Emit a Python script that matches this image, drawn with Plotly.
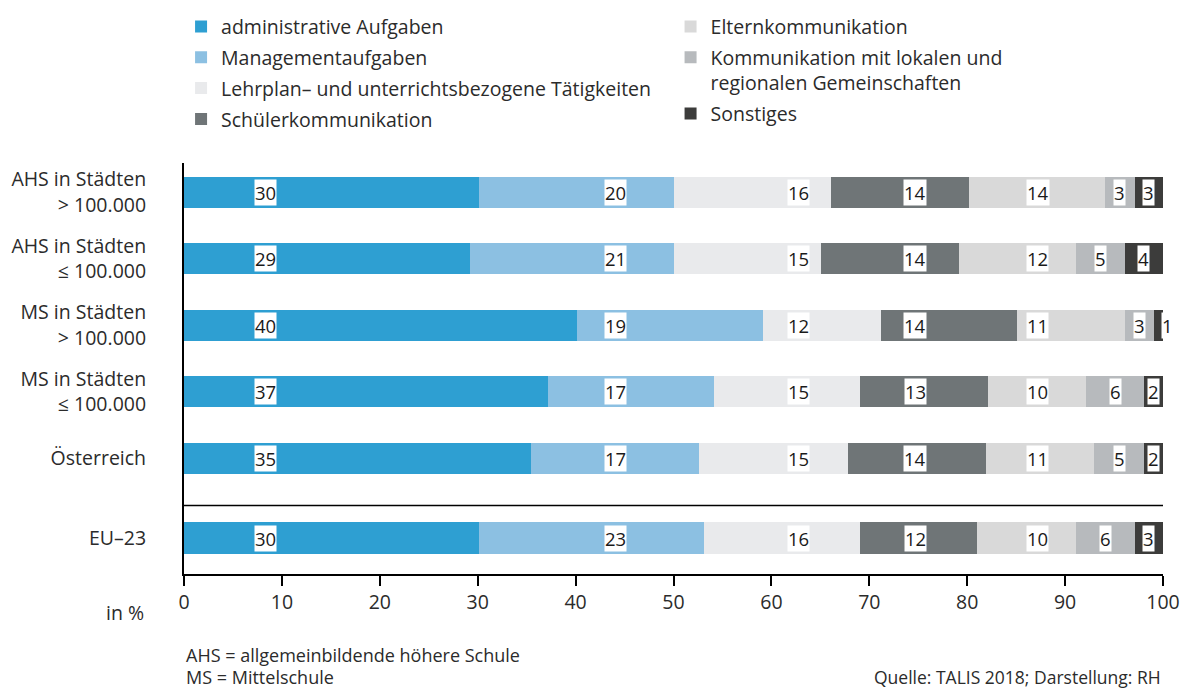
import plotly.graph_objects as go

categories = ["AHS in Städten<br>> 100.000", "AHS in Städten<br>≤ 100.000",
              "MS in Städten<br>> 100.000", "MS in Städten<br>≤ 100.000",
              "Österreich", "EU–23"]
cat_pos = [0, 1, 2, 3, 4, 5.2]

series_names = ["administrative Aufgaben", "Managementaufgaben",
                "Lehrplan– und unterrichtsbezogene Tätigkeiten", "Schülerkommunikation",
                "Elternkommunikation", "Kommunikation mit lokalen und<br>regionalen Gemeinschaften",
                "Sonstiges"]

administrative = [30.1, 29.2, 40.1, 37.2, 35.4, 30.1]
management = [20.0, 20.9, 19.0, 16.9, 17.2, 23.0]
lehrplan = [16.0, 15.0, 12.1, 14.9, 15.2, 16.0]
schueler = [14.1, 14.1, 13.9, 13.1, 14.1, 11.9]
eltern = [13.9, 11.9, 11.0, 10.0, 11.1, 10.1]
gemeinschaft = [3.0, 5.0, 3.0, 6.0, 5.1, 6.0]
sonstiges = [2.9, 3.9, 0.9, 1.9, 1.9, 2.9]

series_values = [administrative, management, lehrplan, schueler, eltern, gemeinschaft, sonstiges]
colors = ["#2e9fd2", "#8cc0e2", "#e9eaec", "#6f7577", "#d9d9d9", "#b7babd", "#3c3c3b"]

# label columns (axis units) used by the original for the first five series;
# None = label centred in its segment
label_columns = [8.3, 44.1, 62.8, 74.7, 87.2, None, None]

x_ticks = [0, 10, 20, 30, 40, 50, 60, 70, 80, 90, 100]

FONT = "Open Sans"
TXT = "#2b2b2b"
FS = 19.5

fig = go.Figure()
for i, (name, vals) in enumerate(zip(series_names, series_values)):
    fig.add_trace(go.Bar(
        y=cat_pos, x=vals, name=name, orientation="h",
        marker=dict(color=colors[i], line=dict(width=0)),
        width=0.47, legend="legend" if i < 4 else "legend2",
        legendgroup=f"g{i}", hoverinfo="x+name",
    ))

# value labels with white boxes
annotations = []
for j, yp in enumerate(cat_pos):
    cum = 0
    for i, vals in enumerate(series_values):
        v = vals[j]
        center = cum + v / 2
        cum += v
        lx = label_columns[i] if label_columns[i] is not None else center
        annotations.append(dict(
            x=lx, y=yp, xref="x", yref="y", text=f"{round(v):d}",
            showarrow=False, bgcolor="white", borderpad=0,
            font=dict(family=FONT, size=18.5, color="#1a1a1a"),
            xshift=9 if v < 1.5 else 0,
        ))

H = 411  # plot-area height in px, for paper placement of footer texts
annotations += [
    dict(x=0, y=(574 - 655) / H, xref="paper", yref="paper", xanchor="left", yanchor="middle",
         text="AHS = allgemeinbildende höhere Schule", showarrow=False,
         font=dict(family=FONT, size=18, color=TXT)),
    dict(x=0, y=(574 - 677) / H, xref="paper", yref="paper", xanchor="left", yanchor="middle",
         text="MS = Mittelschule", showarrow=False,
         font=dict(family=FONT, size=18, color=TXT)),
    dict(x=1, y=(574 - 677) / H, xref="paper", yref="paper", xanchor="right", yanchor="middle",
         text="Quelle: TALIS 2018; Darstellung: RH", showarrow=False,
         font=dict(family=FONT, size=17.5, color=TXT)),
    dict(x=-0.039, y=(574 - 612) / H, xref="paper", yref="paper", xanchor="right", yanchor="middle",
         text="in %", showarrow=False, font=dict(family=FONT, size=FS, color=TXT)),
]

legend_common = dict(yanchor="top", xanchor="left", orientation="v",
                     font=dict(family=FONT, size=FS, color=TXT), traceorder="grouped",
                     valign="top", bgcolor="rgba(0,0,0,0)", tracegroupgap=2.5)

fig.update_layout(
    width=1184, height=688,
    margin=dict(l=184, r=21, t=163, b=114, autoexpand=False),
    barmode="stack", bargap=0,
    plot_bgcolor="white", paper_bgcolor="white",
    font=dict(family=FONT, size=FS, color=TXT),
    annotations=annotations,
    showlegend=True,
    legend=dict(x=-0.003, y=1.379, **legend_common),
    legend2=dict(x=0.497, y=1.379, **legend_common),
    xaxis=dict(range=[0, 100], tickvals=x_ticks, ticktext=[str(t) for t in x_ticks],
               showgrid=False, zeroline=False, showline=True, linecolor="black", linewidth=2,
               ticks="outside", ticklen=10, tickwidth=2, tickcolor="black",
               tickfont=dict(family=FONT, size=FS, color=TXT), fixedrange=True),
    yaxis=dict(range=[5.74, -0.44], tickvals=cat_pos, ticktext=categories,
               showgrid=False, zeroline=False, showline=True, linecolor="black", linewidth=2,
               ticks="", ticklabelstandoff=32,
               tickfont=dict(family=FONT, size=FS, color=TXT), fixedrange=True),
    shapes=[dict(type="line", xref="paper", x0=0, x1=1, yref="y", y0=4.71, y1=4.71,
                 line=dict(color="black", width=1.5))],
)

fig.write_html("out.html", config={"displayModeBar": False},
               post_script="document.body.style.margin='0';")
